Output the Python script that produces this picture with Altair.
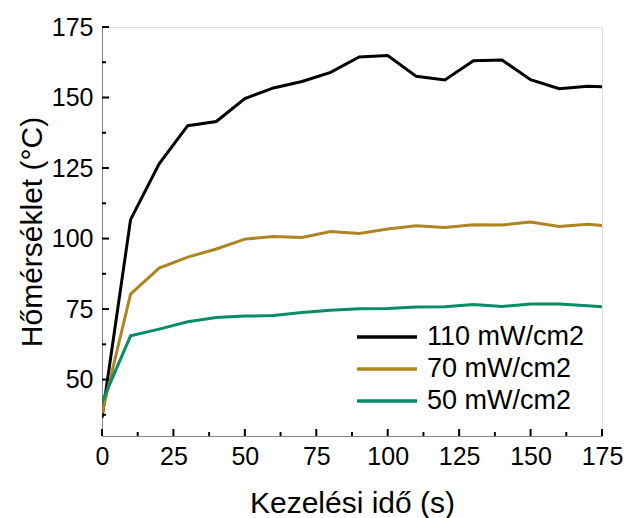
import altair as alt
import pandas as pd

times = [0, 10, 20, 30, 40, 50, 60, 70, 80, 90, 100, 110, 120, 130, 140, 150, 160, 170, 175]
s110 = [36.5, 106.7, 126.5, 140.0, 141.5, 149.6, 153.4, 155.7, 158.9, 164.4, 164.9, 157.5, 156.2, 163.0, 163.3, 156.3, 153.1, 154.0, 153.8]
s70 = [38.0, 80.3, 89.5, 93.4, 96.3, 99.8, 100.7, 100.4, 102.5, 101.8, 103.4, 104.5, 103.9, 104.9, 104.8, 105.9, 104.3, 105.1, 104.6]
s50 = [42.0, 65.5, 67.9, 70.5, 72.0, 72.5, 72.7, 73.8, 74.6, 75.1, 75.2, 75.7, 75.8, 76.6, 75.9, 76.8, 76.8, 76.2, 75.8]
series_names = ["110 mW/cm2", "70 mW/cm2", "50 mW/cm2"]
series_colors = ["#000000", "#AF8422", "#0A8C68"]

x_major = [0, 25, 50, 75, 100, 125, 150, 175]
x_minor = [12.5, 37.5, 62.5, 87.5, 112.5, 137.5, 162.5]
y_major = [50, 75, 100, 125, 150, 175]
y_minor = [37.5, 62.5, 87.5, 112.5, 137.5, 162.5]

rows = []
for name, vals in zip(series_names, [s110, s70, s50]):
    for t, v in zip(times, vals):
        rows.append({"t": t, "v": v, "s": name})
df = pd.DataFrame(rows)

W, H = 500, 409
FONT = "Liberation Sans"

xscale = alt.Scale(domain=[0, 175], nice=False, zero=False)
yscale = alt.Scale(domain=[30, 175], nice=False, zero=False)

lines = alt.Chart(df).mark_line(strokeWidth=3, clip=True).encode(
    x=alt.X("t:Q", scale=xscale, title="Kezelési idő (s)",
            axis=alt.Axis(values=x_major, tickSize=0, labelPadding=8, labelFontSize=25,
                          labelFlush=False, labelOverlap=False,
                          titleFontSize=30, titlePadding=19, titleFontWeight="normal",
                          grid=False)),
    y=alt.Y("v:Q", scale=yscale, title="Hőmérséklet (°C)",
            axis=alt.Axis(values=y_major, tickSize=0, labelPadding=9, labelFontSize=25,
                          labelFlush=False, labelOverlap=False,
                          titleFontSize=30, titlePadding=4, titleFontWeight="normal",
                          grid=False)),
    color=alt.Color("s:N", sort=series_names,
                    scale=alt.Scale(domain=series_names, range=series_colors),
                    legend=alt.Legend(title=None, orient="none", legendX=268, legendY=293,
                                      symbolType="M-2,0H2", symbolSize=900, symbolStrokeWidth=3.5,
                                      labelFontSize=27, labelFont=FONT, labelOffset=23,
                                      rowPadding=2, direction="vertical")),
)

def tick_layer(vals, length, orient):
    d = pd.DataFrame({"p": vals})
    if orient == "x":
        return alt.Chart(d).mark_rule(color="black", strokeWidth=2).encode(
            x=alt.X("p:Q", scale=xscale), y=alt.value(H), y2=alt.value(H - length))
    return alt.Chart(d).mark_rule(color="black", strokeWidth=2).encode(
        y=alt.Y("p:Q", scale=yscale), x=alt.value(0), x2=alt.value(length))

chart = alt.layer(
    lines,
    tick_layer(x_major, 7, "x"), tick_layer(x_minor, 4, "x"),
    tick_layer(y_major, 7, "y"), tick_layer(y_minor, 4, "y"),
).properties(
    width=W, height=H,
    autosize=alt.AutoSizeParams(type="none"),
    padding={"left": 102, "top": 27, "right": 25, "bottom": 82},
).configure_view(stroke=None).configure_axis(
    labelFont=FONT, titleFont=FONT, labelColor="black", titleColor="black",
    domainColor="black", domainWidth=2.5, titleFontWeight="normal",
).configure(background="white")

chart.save("out.html", embed_options={"renderer": "svg", "actions": False})
